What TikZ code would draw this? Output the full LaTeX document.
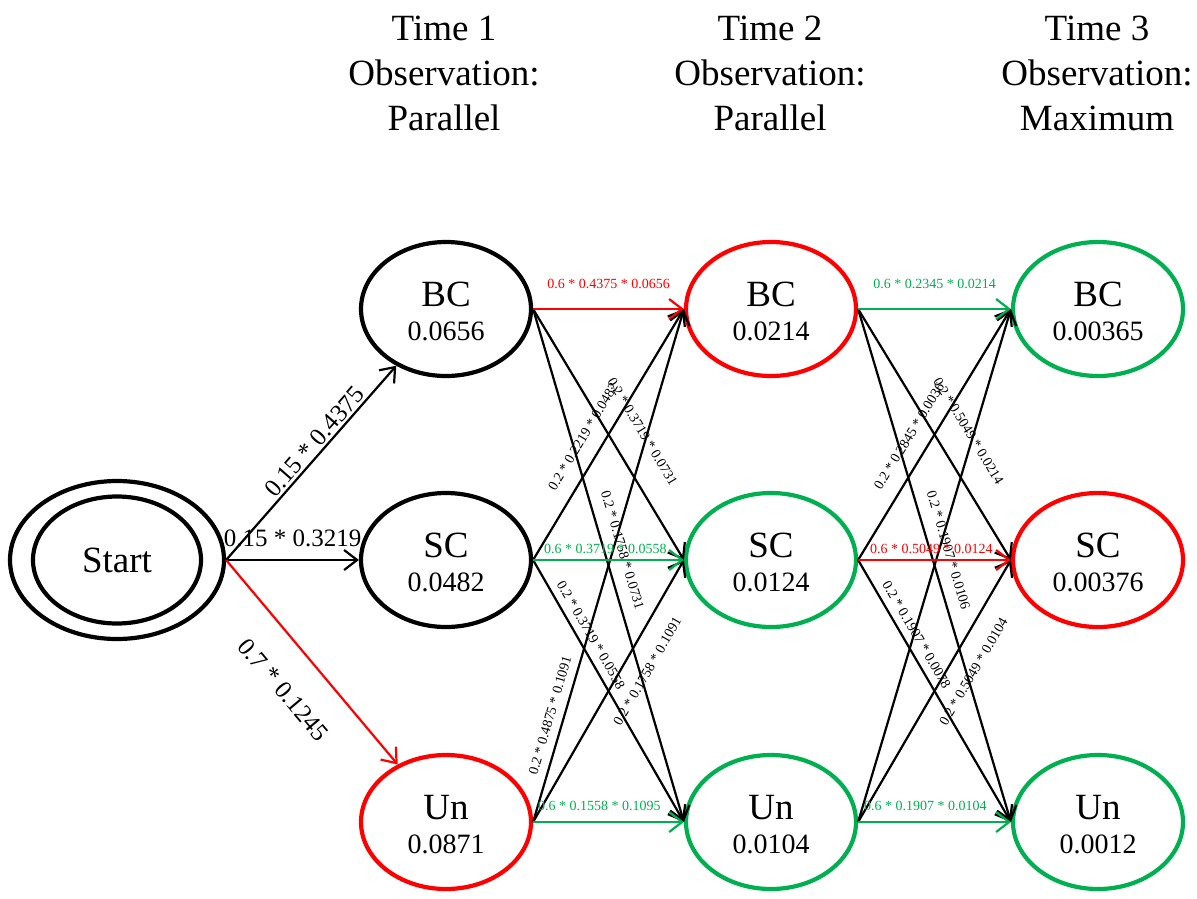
\documentclass[tikz,border=0pt]{standalone}
\usepackage{fontspec}
\setmainfont{Liberation Serif}
\usetikzlibrary{arrows.meta,shapes.geometric}
\definecolor{hred}{RGB}{255,0,0}
\definecolor{hgreen}{RGB}{0,176,80}

\tikzset{
  state/.style={ellipse, draw, line width=4.2pt, minimum width=170pt,
    minimum height=134pt, inner sep=0pt},
  conn/.style={line width=2.2pt, -{Straight Barb[length=13pt,width=20pt]}},
  nm/.style={font=\fontsize{37}{37}\selectfont, anchor=base, inner sep=0pt},
  val/.style={font=\fontsize{28}{28}\selectfont, anchor=base, inner sep=0pt},
  lab/.style={font=\fontsize{14}{14}\selectfont, inner sep=0pt, sloped},
  biglab/.style={font=\fontsize{25}{25}\selectfont, inner sep=0pt, sloped},
  title/.style={font=\fontsize{37}{45}\selectfont, align=center, anchor=north,
    inner sep=0pt}
}

% state: name, x, y, colour, state label, probability
\newcommand\hmmstate[6]{%
  \node[state, draw=#4] (#1) at (#2,#3) {};
  \node[nm] (#1-n) at (#2,#3-3) {#5};
  \node[val] (#1-v) at (#2,#3+31) {#6};
}

\begin{document}
\begin{tikzpicture}[x=1pt,y=-1pt]
\useasboundingbox (0,0) rectangle (1197,898);

% column headings
\node[title] (t1) at (444,16) {Time 1\\Observation:\\Parallel};
\node[title] (t2) at (770,16) {Time 2\\Observation:\\Parallel};
\node[title] (t3) at (1097,16) {Time 3\\Observation:\\Maximum};

% start state
\node[draw, ellipse, line width=4.2pt, minimum width=214pt, minimum height=158pt,
  inner sep=0pt] (start) at (117,560) {};
\node[draw, ellipse, line width=4.2pt, minimum width=168pt, minimum height=127pt,
  inner sep=0pt, font=\fontsize{37}{37}\selectfont] (startin) at (117,560) {Start};

% trellis states
\hmmstate{b1}{446}{309}{black}{BC}{0.0656}
\hmmstate{s1}{446}{560}{black}{SC}{0.0482}
\hmmstate{u1}{446}{822}{hred}{Un}{0.0871}
\hmmstate{b2}{771}{309}{hred}{BC}{0.0214}
\hmmstate{s2}{771}{560}{hgreen}{SC}{0.0124}
\hmmstate{u2}{771}{822}{hgreen}{Un}{0.0104}
\hmmstate{b3}{1098}{309}{hgreen}{BC}{0.00365}
\hmmstate{s3}{1098}{560}{hred}{SC}{0.00376}
\hmmstate{u3}{1098}{822}{hgreen}{Un}{0.0012}

% initial transitions
\draw[conn] (start.east) -- node[biglab, pos=0.57, above=2pt] {0.15 * 0.4375} (b1);
\draw[conn] (start.east) -- node[biglab, above=12pt] {0.15 * 0.3219} (s1);
\draw[conn, hred] (start.east) -- node[biglab, pos=0.51, below=30pt, text=black] {0.7 * 0.1245} (u1);

% time 1 -> time 2
\draw[conn] (b1.east) -- node[lab, pos=0.55, above=25pt] {0.2 * 0.3719 * 0.0731} (s2.west);
\draw[conn] (b1.east) -- node[lab, pos=0.48, above=12pt] {0.2 * 0.1758 * 0.0731} (u2.west);
\draw[conn] (s1.east) -- node[lab, pos=0.45, above=15pt] {0.2 * 0.2219 * 0.0482} (b2.west);
\draw[conn] (s1.east) -- node[lab, pos=0.31, above=7pt] {0.2 * 0.3719 * 0.0558} (u2.west);
\draw[conn] (u1.east) -- node[lab, pos=0.2, above=8pt] {0.2 * 0.4875 * 0.1091} (b2.west);
\draw[conn] (u1.east) -- node[lab, pos=0.62, below=18pt] {0.2 * 0.1758 * 0.1091} (s2.west);
\draw[conn, hred] (b1.east) -- node[lab, pos=0.5, above=19pt] {0.6 * 0.4375 * 0.0656} (b2.west);
\draw[conn, hgreen] (s1.east) -- node[lab, pos=0.48, above=5pt] {0.6 * 0.3719 * 0.0558} (s2.west);
\draw[conn, hgreen] (u1.east) -- node[lab, pos=0.44, above=10pt] {0.6 * 0.1558 * 0.1095} (u2.west);

% time 2 -> time 3
\draw[conn] (b2.east) -- node[lab, pos=0.55, above=25pt] {0.2 * 0.5049 * 0.0214} (s3.west);
\draw[conn] (b2.east) -- node[lab, pos=0.48, above=12pt] {0.2 * 0.1907 * 0.0106} (u3.west);
\draw[conn] (s2.east) -- node[lab, pos=0.45, above=15pt] {0.2 * 0.2845 * 0.0036} (b3.west);
\draw[conn] (s2.east) -- node[lab, pos=0.31, above=7pt] {0.2 * 0.1907 * 0.0078} (u3.west);
\draw[conn] (u2.east) -- (b3.west);
\draw[conn] (u2.east) -- node[lab, pos=0.62, below=18pt] {0.2 * 0.5049 * 0.0104} (s3.west);
\draw[conn, hgreen] (b2.east) -- node[lab, pos=0.5, above=19pt] {0.6 * 0.2345 * 0.0214} (b3.west);
\draw[conn, hred] (s2.east) -- node[lab, pos=0.48, above=5pt] {0.6 * 0.5049 * 0.0124} (s3.west);
\draw[conn, hgreen] (u2.east) -- node[lab, pos=0.44, above=10pt] {0.6 * 0.1907 * 0.0104} (u3.west);
\end{tikzpicture}
\end{document}
